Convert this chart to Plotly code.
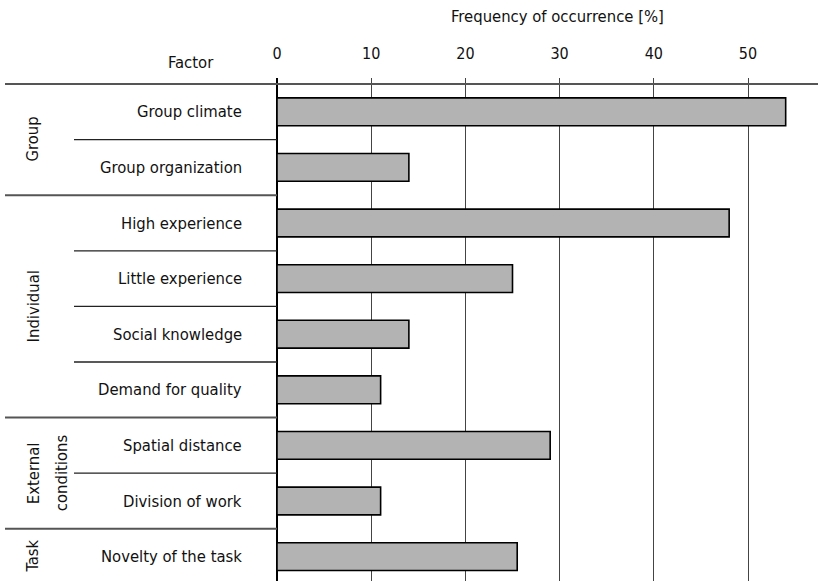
import plotly.graph_objects as go

# Factors, their groups and the share of mentions (%)
factors = [
    "Group climate", "Group organization",
    "High experience", "Little experience", "Social knowledge", "Demand for quality",
    "Spatial distance", "Division of work",
    "Novelty of the task",
]
frequency = [54, 14, 48, 25, 14, 11, 29, 11, 25.5]
groups = ["Group", "Individual", "External<br>conditions", "Task"]
group_sizes = [2, 4, 2, 1]
x_ticks = [0, 10, 20, 30, 40, 50]

W, H = 818, 581
L, T = 277, 78          # plot area origin in px
ROW = 55.6              # row height in px
PW, PH = W - L, H - T
FONT = "DejaVu Sans Condensed, Liberation Sans Narrow, sans-serif"
FS = 16.5

y_top = -0.5 - 6 / ROW
y_bot = y_top + PH / ROW
ypos = list(range(len(factors)))

def px_x(px):
    return (px - L) / PW

def px_y(px):
    return (H - px) / PH

fig = go.Figure(go.Bar(
    x=frequency, y=ypos, orientation="h", width=0.5,
    marker=dict(color="#b3b3b3", line=dict(color="black", width=1.6)),
    hoverinfo="x+y",
))

shapes = []
annotations = []

# top rule across the whole chart
shapes.append(dict(type="line", xref="paper", yref="y", x0=px_x(5), x1=1,
                   y0=-0.5, y1=-0.5, line=dict(color="#555", width=2)))

# group boundaries and in-group row separators
start = 0
for g, n in zip(groups, group_sizes):
    for k in range(1, n):
        yb = start + k - 0.5
        shapes.append(dict(type="line", xref="paper", yref="y", x0=px_x(74), x1=0,
                           y0=yb, y1=yb, line=dict(color="#222", width=1.3)))
    end = start + n
    if end < len(factors):
        shapes.append(dict(type="line", xref="paper", yref="y", x0=px_x(5), x1=0,
                           y0=end - 0.5, y1=end - 0.5, line=dict(color="#555", width=2)))
    # rotated group name, one annotation per line for wider line spacing
    lines = g.split("<br>")
    for j, part in enumerate(lines):
        gx = 33 + 28 * j
        annotations.append(dict(text=part, xref="paper", yref="y", x=px_x(gx),
                                y=(start + end - 1) / 2, textangle=-90, showarrow=False,
                                xanchor="center", yanchor="middle",
                                font=dict(family=FONT, size=FS, color="#111")))
    start = end

# factor labels
for i, f in enumerate(factors):
    annotations.append(dict(text=f, xref="paper", yref="y", x=px_x(244), y=i,
                            xanchor="right", yanchor="middle", showarrow=False,
                            font=dict(family=FONT, size=FS, color="#111")))

annotations.append(dict(text="Factor", xref="paper", yref="paper", x=px_x(191),
                        y=px_y(62), xanchor="center", yanchor="middle", showarrow=False,
                        font=dict(family=FONT, size=FS, color="#111")))
annotations.append(dict(text="Frequency of occurrence [%]", xref="paper", yref="paper",
                        x=px_x(557), y=px_y(17), xanchor="center", yanchor="middle",
                        showarrow=False, font=dict(family=FONT, size=FS, color="#111")))

fig.update_layout(
    width=W, height=H,
    margin=dict(l=L, r=0, t=T, b=0),
    paper_bgcolor="white", plot_bgcolor="white",
    showlegend=False,
    shapes=shapes, annotations=annotations,
    bargap=0.5,
)
fig.update_xaxes(
    side="top", range=[0, PW / 9.42], tickvals=x_ticks, ticks="",
    ticklabelstandoff=15,
    tickfont=dict(family=FONT, size=16, color="#111"),
    showgrid=True, gridcolor="#444", gridwidth=1.2,
    zeroline=True, zerolinecolor="black", zerolinewidth=1.6,
    showline=False, fixedrange=True,
)
fig.update_yaxes(
    range=[y_bot, y_top], showticklabels=False, ticks="",
    showgrid=False, zeroline=False, showline=False, fixedrange=True,
)

fig.write_html("out.html")
